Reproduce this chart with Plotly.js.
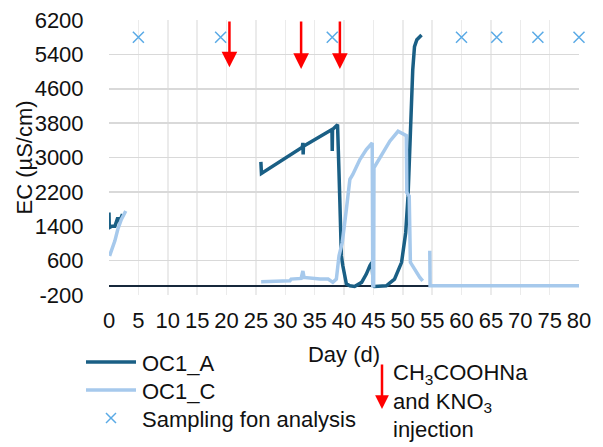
<!DOCTYPE html>
<html>
<head>
<meta charset="utf-8">
<script src="https://cdn.plot.ly/plotly-3.0.1.min.js"></script>
<style>
html,body{margin:0;padding:0;background:#fff;}
#chart{width:603px;height:447px;}
</style>
</head>
<body>
<div id="chart"></div>
<script>
// ---- data ----
var oc1aDay = [0, 0.05, 0.5, 1.0, 1.5, 1.8, 2.3, null,
  25.85, 25.95, 32.9, 33.0, 33.05, 33.1, 37.95, 38.0, 38.05, 38.9, 39.0, 39.15, 39.3, 39.4, 39.55, 39.8, 40.1, 40.4, 41.0, 41.8, 43.0, 43.8, 44.4, 44.75, 45.0, 45.2, 47.2, 48.6, 49.8, 50.5, 50.9, 51.2, 51.5, 51.7, 52.0, 52.4, 53.2];
var oc1aEC = [1720, 1370, 1400, 1400, 1600, 1500, 1680, null,
  2900, 2630, 3240, 3340, 3070, 3260, 3650, 3150, 3650, 3765, 2950, 2645, 1950, 1020, 710, 480, 247, 60, 15, 0, 94, 287, 480, 560, 20, 0, 15, 170, 560, 1250, 2100, 3340, 4110, 5040, 5580, 5740, 5850];

var oc1cDay = [0.1, 1.0, 1.5, 2.1, 2.85, null,
  25.9, 30.8, 31.0, 32.7, 33.0, 33.2, 35.9, 37.3, 38.1, 38.7, 39.15, 39.7, 40.4, 41.0, 41.5, 42.7, 43.8, 44.8, 44.9, 45.05, 45.1, 46.6, 47.8, 49.2, 50.6, 50.7, 51.1, 51.3, 52.0, 52.9, 53.4, null,
  54.6, 54.65, 80];
var oc1cEC = [710, 1060, 1330, 1560, 1755, null,
  110, 130, 170, 185, 360, 210, 175, 170, 94, 170, 710, 1020, 1790, 2490, 2606, 2953, 3185, 3340, 15, 15, 2760, 3110, 3380, 3610, 3510, 2180, 2100, 560, 400, 210, 130, null,
  830, 15, 15];

var samplingDay = [5, 19, 38, 60, 66, 73, 80];
var samplingEC = [5800, 5800, 5800, 5800, 5800, 5800, 5800];

var injectionDay = [20.5, 32.7, 39.3];
var injectionTipEC = [5100, 5060, 5060];
var injectionTailEC = [6200, 6200, 6200];

var seriesNames = ['OC1_A', 'OC1_C', 'Sampling fon analysis'];
var injectionLabel = 'CH<sub>3</sub>COOHNa<br>and KNO<sub>3</sub><br>injection';
var xTitle = 'Day (d)';
var yTitle = 'EC (µS/cm)';

var xTickVals = [0, 5, 10, 15, 20, 25, 30, 35, 40, 45, 50, 55, 60, 65, 70, 75, 80];
var xTickText = ['0', '5', '10', '15', '20', '25', '30', '35', '40', '45', '50', '55', '60', '65', '70', '75', '80'];
var yTickVals = [-200, 600, 1400, 2200, 3000, 3800, 4600, 5400, 6200];
var yTickText = ['-200', '600', '1400', '2200', '3000', '3800', '4600', '5400', '6200'];

// ---- styles ----
var FONT = 'Liberation Sans, Arial, sans-serif';
var FS = 22;
var TXT = '#111';
var darkCol = '#1a5f85';
var lightCol = '#a6c9ec';
var markCol = '#5aaae6';
var red = '#ff0000';

var W = 603, H = 447;
var M = {l: 109, r: 24, t: 20, b: 152};
var PW = W - M.l - M.r, PH = H - M.t - M.b;
// pixel -> paper helpers for the hand-built legend and y title
function px(x) { return (x - M.l) / PW; }
function py(y) { return (H - M.b - y) / PH; }

var traces = [
  {x: oc1aDay, y: oc1aEC, type: 'scatter', mode: 'lines', name: seriesNames[0],
   line: {color: darkCol, width: 3.5}, connectgaps: false},
  {x: oc1cDay, y: oc1cEC, type: 'scatter', mode: 'lines', name: seriesNames[1],
   line: {color: lightCol, width: 3.5}, connectgaps: false},
  {x: samplingDay, y: samplingEC, type: 'scatter', mode: 'markers', name: seriesNames[2],
   marker: {symbol: 'x-thin-open', size: 11, color: markCol, line: {color: markCol, width: 1.5}},
   cliponaxis: false}
];

var annotations = injectionDay.map(function (d, i) {
  return {x: d, y: injectionTipEC[i], xref: 'x', yref: 'y',
    ax: d, ay: injectionTailEC[i], axref: 'x', ayref: 'y',
    showarrow: true, arrowhead: 2, arrowsize: 1.25, arrowwidth: 2.5, arrowcolor: red, text: ''};
});

// y axis title
annotations.push({xref: 'paper', yref: 'paper', x: px(24), y: 0.5, xanchor: 'center', yanchor: 'middle',
  textangle: -90, showarrow: false, text: yTitle, font: {family: FONT, size: FS, color: TXT}});

// ---- legend (drawn by hand to match row spacing) ----
var legendRows = [362, 390, 418];
var legendFont = {family: FONT, size: FS, color: TXT};
var shapes = [
  {type: 'line', xref: 'paper', yref: 'paper', x0: px(86), x1: px(136), y0: py(legendRows[0]), y1: py(legendRows[0]),
   line: {color: darkCol, width: 3.5}},
  {type: 'line', xref: 'paper', yref: 'paper', x0: px(86), x1: px(136), y0: py(legendRows[1]), y1: py(legendRows[1]),
   line: {color: lightCol, width: 3.5}},
  {type: 'line', xref: 'paper', yref: 'paper', x0: px(106), x1: px(116), y0: py(legendRows[2] - 5), y1: py(legendRows[2] + 5),
   line: {color: markCol, width: 1.5}},
  {type: 'line', xref: 'paper', yref: 'paper', x0: px(106), x1: px(116), y0: py(legendRows[2] + 5), y1: py(legendRows[2] - 5),
   line: {color: markCol, width: 1.5}}
];
seriesNames.forEach(function (n, i) {
  annotations.push({xref: 'paper', yref: 'paper', x: px(140), y: py(legendRows[i] + 1),
    xanchor: 'left', yanchor: 'middle', showarrow: false, text: n, font: legendFont});
});
annotations.push({xref: 'paper', yref: 'paper', x: px(382), y: py(409), ax: 0, ay: -46,
  showarrow: true, arrowhead: 2, arrowsize: 1.1, arrowwidth: 2.5, arrowcolor: red, text: ''});
annotations.push({xref: 'paper', yref: 'paper', x: px(391), y: py(358), xanchor: 'left', yanchor: 'top',
  align: 'left', showarrow: false, text: injectionLabel, font: legendFont});

var layout = {
  width: W, height: H,
  margin: {l: M.l, r: M.r, t: M.t, b: M.b, pad: 0, autoexpand: false},
  paper_bgcolor: '#fff', plot_bgcolor: '#fff',
  font: {family: FONT, size: FS, color: TXT},
  showlegend: false,
  xaxis: {range: [0, 80], tickmode: 'array', tickvals: xTickVals, ticktext: xTickText,
    showgrid: true, gridcolor: '#ebebeb', gridwidth: 1.5, zeroline: false, showline: false,
    ticks: 'outside', ticklen: 6, tickcolor: 'rgba(0,0,0,0)',
    tickfont: {family: FONT, size: FS, color: TXT},
    title: {text: xTitle, standoff: 14, font: {family: FONT, size: FS, color: TXT}}},
  yaxis: {range: [-200, 6200], tickmode: 'array', tickvals: yTickVals, ticktext: yTickText,
    showgrid: true, gridcolor: '#d9d9d9', gridwidth: 1.5,
    zeroline: true, zerolinecolor: '#17283b', zerolinewidth: 2, showline: false,
    ticks: 'outside', ticklen: 20, tickcolor: 'rgba(0,0,0,0)',
    tickfont: {family: FONT, size: FS, color: TXT}},
  shapes: shapes,
  annotations: annotations
};

Plotly.newPlot('chart', traces, layout, {displayModeBar: false, staticPlot: true});
</script>
</body>
</html>
